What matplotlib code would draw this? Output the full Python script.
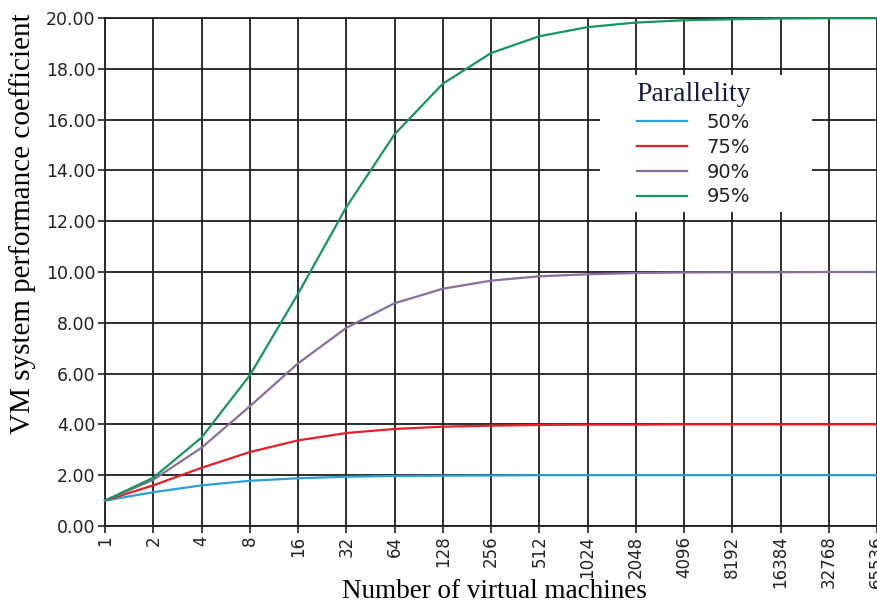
import numpy as np
import matplotlib
matplotlib.use('Agg')
import matplotlib.pyplot as plt
from matplotlib.patches import Rectangle

# 데이터: 가상머신 수와 병렬도별 성능계수
vm_counts = ['1', '2', '4', '8', '16', '32', '64', '128', '256', '512', '1024',
             '2048', '4096', '8192', '16384', '32768', '65536']
par_50 = [1.00, 1.33, 1.60, 1.78, 1.88, 1.94, 1.97, 1.98, 1.99, 2.00, 2.00,
          2.00, 2.00, 2.00, 2.00, 2.00, 2.00]
par_75 = [1.00, 1.60, 2.29, 2.91, 3.37, 3.66, 3.82, 3.91, 3.95, 3.98, 3.99,
          3.99, 4.00, 4.00, 4.00, 4.00, 4.00]
par_90 = [1.00, 1.82, 3.08, 4.71, 6.40, 7.80, 8.77, 9.34, 9.66, 9.83, 9.91,
          9.96, 9.98, 9.99, 9.99, 10.00, 10.00]
par_95 = [1.00, 1.90, 3.48, 5.93, 9.14, 12.55, 15.42, 17.41, 18.62, 19.28, 19.64,
          19.82, 19.91, 19.95, 19.98, 19.99, 19.99]
series_names = ['50%', '75%', '90%', '95%']
series_colors = ['#2a9fd8', '#e3202c', '#8a6f9a', '#17965e']

fig = plt.figure(figsize=(8.77, 6.04), dpi=100)
ax = fig.add_axes([105 / 877, 1 - 526 / 604, 772 / 877, 508 / 604])

x_pos = np.arange(len(vm_counts))
for vals, name, col in zip([par_50, par_75, par_90, par_95], series_names, series_colors):
    ax.plot(x_pos, vals, color=col, lw=1.6, label=name, zorder=3, clip_on=False)

ax.set_xlim(0, len(vm_counts) - 1)
ax.set_ylim(0, 20)
ax.set_xticks(x_pos)
ax.set_xticklabels(vm_counts, rotation=90, fontsize=12, color='#222222')
ax.set_yticks(np.arange(0, 21, 2))
ax.set_yticklabels(['%.2f' % v for v in np.arange(0, 21, 2)], fontsize=12.5, color='#222222')
ax.tick_params(length=5, width=1.2, color='#222222', pad=2)

ax.grid(True, color='#1e1e1e', lw=1.3, zorder=1)
for s in ax.spines.values():
    s.set_color('#1e1e1e')
    s.set_linewidth(1.3)
ax.spines['right'].set_visible(False)

ax.set_xlabel('Number of virtual machines', family='Liberation Serif', fontsize=19.5)
ax.xaxis.set_label_coords(0.504, -0.104)
ax.set_ylabel('VM system performance coefficient', family='Liberation Serif', fontsize=21)
ax.yaxis.set_label_coords(-0.090, 0.595)

# 범례 뒤 흰 배경 (격자선 가림)
ax.add_patch(Rectangle((0.641, 0.618), 0.275, 0.270, transform=ax.transAxes,
                       facecolor='white', edgecolor='none', zorder=4))

leg = ax.legend(title='Parallelity', loc='upper left', bbox_to_anchor=(0.688, 0.874),
                frameon=False, fontsize=14, handlelength=2.6, handletextpad=1.0,
                labelspacing=0.3, borderpad=0, borderaxespad=0)
leg.get_title().set_family('Liberation Serif')
leg.get_title().set_fontsize(20)
leg.get_title().set_color('#1a1a40')
for t in leg.get_texts():
    t.set_color('#222222')
leg.set_zorder(5)

plt.savefig('out.png', dpi=100)
